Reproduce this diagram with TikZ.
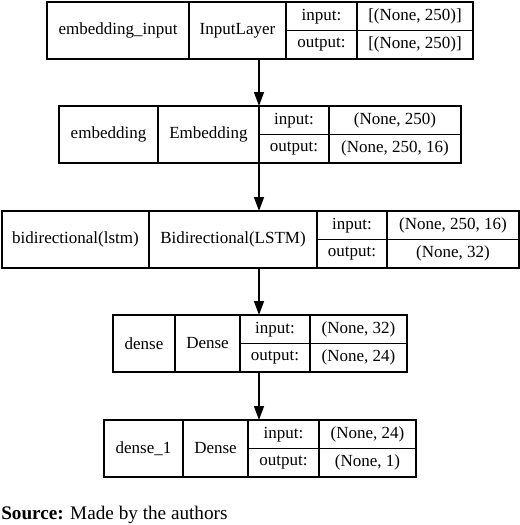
\documentclass[tikz,border=0pt]{standalone}
\usepackage{fontspec}
\setmainfont{Liberation Serif}
\usepackage{tikz}
\usetikzlibrary{positioning, arrows.meta}
\tikzstyle{cell} = [rectangle, draw=black, line width=1pt, outer sep=0pt, inner sep=2pt, minimum height=42.75pt, text centered, font=\fontsize{12.75}{15}\selectfont]
\tikzstyle{half} = [cell, minimum height=21.375pt]
\tikzstyle{arrow} = [line width=1pt,->,>={Triangle[length=10.5pt,width=7.5pt]}]

\begin{document}
\begin{tikzpicture}[x=0.75pt,y=-0.75pt]
	\useasboundingbox (0,0) rectangle (520,525);
	
	\node (n1) [cell, minimum width=106.5pt, anchor=north west] at (47,2) {embedding\_input};
	\node (t1) [cell, minimum width=72.75pt, right=0pt of n1] {InputLayer};
	\node (i1) [half, minimum width=53.25pt, anchor=north west] at (t1.north east) {input:};
	\node (o1) [half, minimum width=53.25pt, below=0pt of i1] {output:};
	\node (iv1) [half, minimum width=87pt, right=0pt of i1] {[(None, 250)]};
	\node (ov1) [half, minimum width=87pt, right=0pt of o1] {[(None, 250)]};
	
	\node (n2) [cell, minimum width=74.25pt, anchor=north west] at (59,106) {embedding};
	\node (t2) [cell, minimum width=75.75pt, right=0pt of n2] {Embedding};
	\node (i2) [half, minimum width=52.5pt, anchor=north west] at (t2.north east) {input:};
	\node (o2) [half, minimum width=52.5pt, below=0pt of i2] {output:};
	\node (iv2) [half, minimum width=99pt, right=0pt of i2] {(None, 250)};
	\node (ov2) [half, minimum width=99pt, right=0pt of o2] {(None, 250, 16)};
	
	\draw [arrow] (t1.south -| i2.west) -- (i2.north west);
	
	\node (n3) [cell, minimum width=110.25pt, anchor=north west] at (2,211) {bidirectional(lstm)};
	\node (t3) [cell, minimum width=126pt, right=0pt of n3] {Bidirectional(LSTM)};
	\node (i3) [half, minimum width=52.5pt, anchor=north west] at (t3.north east) {input:};
	\node (o3) [half, minimum width=52.5pt, below=0pt of i3] {output:};
	\node (iv3) [half, minimum width=99pt, right=0pt of i3] {(None, 250, 16)};
	\node (ov3) [half, minimum width=99pt, right=0pt of o3] {(None, 32)};
	
	\draw [arrow] (o2.south west) -- (t3.north -| o2.south west);
	
	\node (n4) [cell, minimum width=46.5pt, anchor=north west] at (113,315) {dense};
	\node (t4) [cell, minimum width=48.75pt, right=0pt of n4] {Dense};
	\node (i4) [half, minimum width=52.5pt, anchor=north west] at (t4.north east) {input:};
	\node (o4) [half, minimum width=52.5pt, below=0pt of i4] {output:};
	\node (iv4) [half, minimum width=72.75pt, right=0pt of i4] {(None, 32)};
	\node (ov4) [half, minimum width=72.75pt, right=0pt of o4] {(None, 24)};
	
	\draw [arrow] (t3.south -| o2.south west) -- (i4.north -| o2.south west);
	
	\node (n5) [cell, minimum width=59.25pt, anchor=north west] at (104,420) {dense\_1};
	\node (t5) [cell, minimum width=48.75pt, right=0pt of n5] {Dense};
	\node (i5) [half, minimum width=53.25pt, anchor=north west] at (t5.north east) {input:};
	\node (o5) [half, minimum width=53.25pt, below=0pt of i5] {output:};
	\node (iv5) [half, minimum width=72.75pt, right=0pt of i5] {(None, 24)};
	\node (ov5) [half, minimum width=72.75pt, right=0pt of o5] {(None, 1)};
	
	\draw [arrow] (o4.south -| o2.south west) -- (i5.north -| o2.south west);
	
	\node (src) [anchor=base west, inner sep=0pt, font=\fontsize{14.4}{17}\selectfont] at (1,519) {\textbf{Source:} Made by the authors};
	
\end{tikzpicture}
\end{document}
